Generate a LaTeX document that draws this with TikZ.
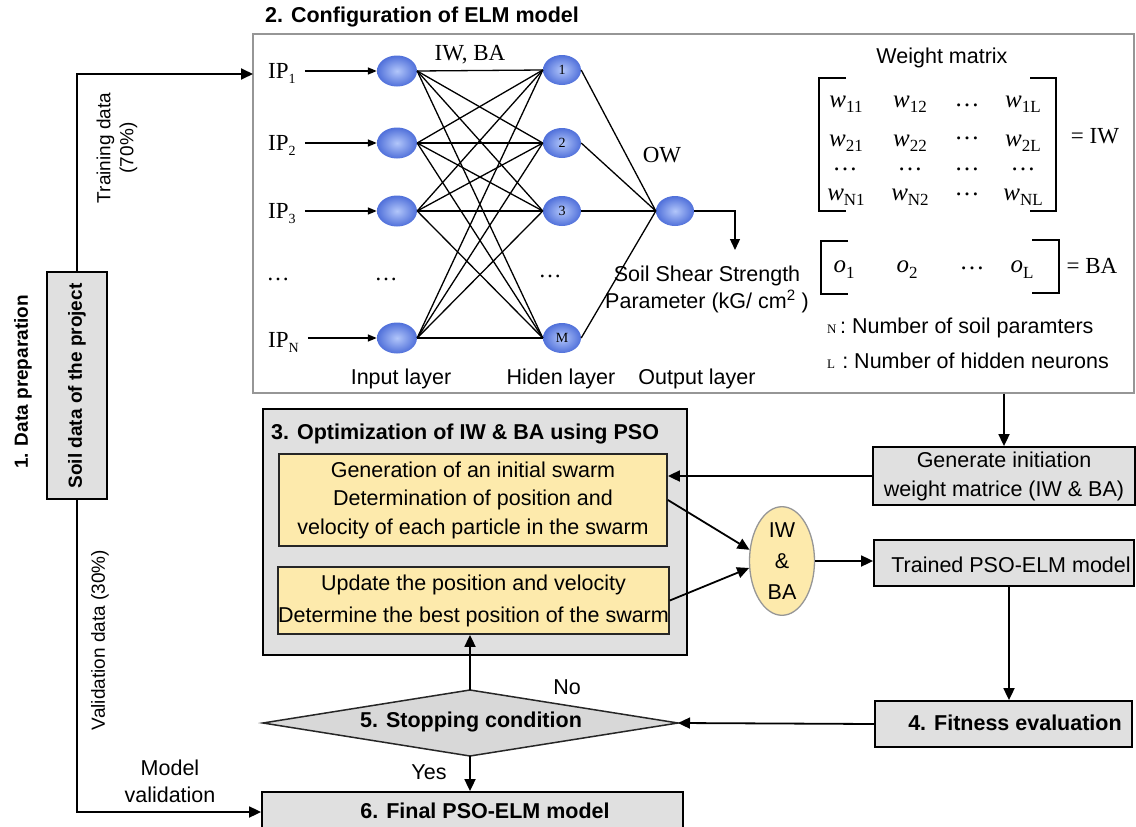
\documentclass[tikz,border=0pt]{standalone}
\usepackage{fontspec}
\setmainfont{Liberation Sans}
\newfontfamily\serif{Liberation Serif}
\usetikzlibrary{arrows.meta,shapes.geometric}
\definecolor{boxgray}{RGB}{224,224,224}
\definecolor{diagray}{RGB}{216,216,216}
\definecolor{ylw}{RGB}{253,234,172}
\definecolor{framegray}{RGB}{150,150,150}
\definecolor{nodein}{RGB}{178,198,250}
\definecolor{nodeout}{RGB}{80,112,218}
\newcommand{\fs}[1]{\fontsize{#1}{#1}\selectfont}
\newcommand{\lsub}[1]{\raisebox{-0.22em}{\fs{14}#1}}
\newcommand{\wsub}[1]{{\itshape w}\raisebox{-0.2em}{\fs{17}#1}}
\newcommand{\osub}[1]{{\itshape o}\raisebox{-0.25em}{\fs{17}#1}}
\begin{document}
\begin{tikzpicture}[x=1pt,y=-1pt,
  font=\fontsize{21.5}{27}\selectfont,
  >={Triangle[length=12pt,width=11pt]},
  conn/.style={line width=1.8pt,->},
  graybox/.style={draw=black,line width=1.8pt,fill=boxgray,inner sep=0pt},
  ylwbox/.style={draw=black!85,line width=1.8pt,fill=ylw,inner sep=0pt,align=center},
  neuron/.style={ellipse,shading=radial,inner color=nodein,outer color=nodeout,inner sep=0pt},
  nnline/.style={line width=1.3pt},
  txt/.style={inner sep=0pt},
  btxt/.style={inner sep=0pt,font=\fontsize{21.5}{27}\selectfont\bfseries},
  vtxt/.style={inner sep=0pt,rotate=90,font=\fontsize{19}{23}\selectfont,align=center},
  stxt/.style={inner sep=0pt,font=\serif\fontsize{23}{23}\selectfont},
  mtxt/.style={inner sep=0pt,font=\serif\fontsize{25}{25}\selectfont},
  brk/.style={line width=1.6pt},
]
\useasboundingbox (0,0) rectangle (1136,827);

% ---------- ELM configuration frame ----------
\node[draw=framegray,line width=1.2pt,minimum width=881pt,minimum height=359pt,inner sep=0pt] (elm) at (693.5,213.5) {};
\node[btxt,anchor=base west] (elmtitle) at (265,23) {2. Configuration of ELM model};

% input labels
\node[stxt,anchor=base west] (ip1) at (268,78) {IP\lsub{1}};
\node[stxt,anchor=base west] (ip2) at (268,150) {IP\lsub{2}};
\node[stxt,anchor=base west] (ip3) at (268,218) {IP\lsub{3}};
\node[stxt] (ipd) at (278,279) {…};
\node[stxt,anchor=base west] (ipn) at (268,347) {IP\lsub{N}};

% neurons
\foreach \i/\y in {1/71,2/143,3/211,4/338}
  \node[neuron,minimum width=40pt,minimum height=31pt] (in\i) at (397,\y) {};
\node[stxt] (ind) at (386,279) {…};
\foreach \i/\y/\l in {1/70/1,2/143/2,3/211/3,4/338/M}
  \node[neuron,minimum width=38pt,minimum height=30pt,font=\serif\fs{14}] (h\i) at (562,\y) {\l};
\node[stxt] (hd) at (550,276) {…};
\node[neuron,minimum width=38pt,minimum height=30pt] (out) at (675,211) {};

\foreach \i in {1,...,4}
  \foreach \j in {1,...,4}
    \draw[nnline] (in\i.east) -- (h\j.west);
\foreach \j in {1,...,4}
  \draw[nnline] (h\j.east) -- (out.west);

\foreach \a/\b in {ip1/in1,ip2/in2,ip3/in3,ipn/in4}
  \draw[line width=1.5pt,->,>={Triangle[length=9pt,width=7pt]},shorten <=9pt] (\a.east |- \b.west) -- (\b.west);

\coordinate (oarr) at (735,250);
\draw[nnline,->,>={Triangle[length=11pt,width=10pt]}] (out.east) -| (oarr);

\node[stxt,anchor=base] (iwba0) at (470,60) {IW, BA};
\node[stxt,anchor=base] (ow) at (662,162) {OW};
\node[txt,anchor=base,align=center] (sssp) at (707,308) {Soil Shear Strength\\Parameter (kG/ cm\textsuperscript{2} )};
\node[txt,anchor=base] (inl) at (401,384) {Input layer};
\node[txt,anchor=base] (hil) at (561,384) {Hiden layer};
\node[txt,anchor=base] (oul) at (697,384) {Output layer};

% weight matrix
\node[txt] (wmt) at (942,58) {Weight matrix};
\draw[brk] (846,78) -- (819,78) -- (819,211) -- (846,211);
\draw[brk] (1030,78) -- (1056,78) -- (1056,211) -- (1030,211);
\node[mtxt,anchor=base] (w11) at (846,107) {\wsub{11}};
\node[mtxt,anchor=base] (w12) at (910,107) {\wsub{12}};
\node[mtxt] (w13) at (967,105) {…};
\node[mtxt,anchor=base] (w1l) at (1023,107) {\wsub{1L}};
\node[mtxt,anchor=base] (w21) at (846,146) {\wsub{21}};
\node[mtxt,anchor=base] (w22) at (910,146) {\wsub{22}};
\node[mtxt] (w23) at (967,138) {…};
\node[mtxt,anchor=base] (w2l) at (1023,146) {\wsub{2L}};
\foreach \x in {845,910,967,1023}
  \node[mtxt] at (\x,169) {…};
\node[mtxt,anchor=base] (wn1) at (846,200) {\wsub{N1}};
\node[mtxt,anchor=base] (wn2) at (910,200) {\wsub{N2}};
\node[mtxt] (wn3) at (967,194) {…};
\node[mtxt,anchor=base] (wnl) at (1023,200) {\wsub{NL}};
\node[stxt,anchor=base] (eqiw) at (1095,143) {= IW};

\draw[brk] (848,241) -- (821,241) -- (821,294) -- (848,294);
\draw[brk] (1032,240) -- (1059,240) -- (1059,293) -- (1032,293);
\node[mtxt,anchor=base] (o1) at (844,272) {\osub{1}};
\node[mtxt,anchor=base] (o2) at (907,272) {\osub{2}};
\node[mtxt] (o3) at (972,268) {…};
\node[mtxt,anchor=base] (ol) at (1022,272) {\osub{L}};
\node[stxt,anchor=base] (eqba) at (1092,273) {= BA};

\node[txt,anchor=base west] (legn) at (827,333) {{\serif\fs{13}N}\,: Number of soil paramters};
\node[txt,anchor=base west] (legl) at (827,368) {{\serif\fs{13}L}\,\,: Number of hidden neurons};

% ---------- data preparation ----------
\node[vtxt,font=\fontsize{19}{23}\selectfont\bfseries] (dp) at (23,382) {1. Data preparation};
\node[graybox,minimum width=60pt,minimum height=227pt] (soil) at (77,385.5) {};
\node[vtxt,font=\fontsize{19}{23}\selectfont\bfseries] (soiltxt) at (77,386) {Soil data of the project};
\coordinate (trainin) at (253,74);
\draw[conn] (soil.north) |- (trainin);
\node[vtxt] (trtxt) at (117,148) {Training data\\(70\%)};
\node[vtxt] (vatxt) at (100,640) {Validation data (30\%)};

% ---------- final ----------
\node[graybox,minimum width=421pt,minimum height=40pt] (final) at (472.5,812) {};
\node[btxt,anchor=base] (finaltxt) at (485,818) {6. Final PSO-ELM model};
\draw[conn] (soil.south) |- (final.west);
\node[txt,align=center] (mv) at (170,781) {Model\\validation};

% ---------- optimization ----------
\node[graybox,minimum width=424pt,minimum height=246pt] (opt) at (475,532) {};
\node[btxt,anchor=base west] (opttxt) at (271,439) {3. Optimization of IW \& BA using PSO};
\node[ylwbox,minimum width=388pt,minimum height=92pt,font=\fontsize{21.5}{28.5}\selectfont] (y1) at (473,500)
  {Generation of an initial swarm\\Determination of position and\\velocity of each particle in the swarm};
\node[ylwbox,minimum width=387pt,minimum height=67pt,font=\fontsize{21.5}{32}\selectfont] (y2) at (473.5,600.5)
  {Update the position and velocity\\Determine the best position of the swarm};

\node[ellipse,draw=framegray,line width=1.3pt,fill=ylw,minimum width=65pt,minimum height=103pt,inner sep=0pt,align=center,font=\fontsize{21.5}{31}\selectfont] (iwba) at (782,561) {IW\\\&\\BA};

% ---------- right column ----------
\node[graybox,minimum width=262pt,minimum height=58pt,align=center,font=\fontsize{21.5}{29}\selectfont] (gen) at (1004,476) {Generate initiation\\weight matrice (IW \& BA)};
\node[graybox,minimum width=260pt,minimum height=46pt] (trained) at (1004,563) {};
\node[txt,anchor=base] (trainedtxt) at (1011,572) {Trained PSO-ELM model};
\node[graybox,minimum width=257pt,minimum height=46pt] (fit) at (1003.5,724) {};
\node[btxt,anchor=base] (fittxt) at (1015,730) {4. Fitness evaluation};

% ---------- stopping condition ----------
\coordinate (stopL) at (263,723);
\coordinate (stopT) at (470,690);
\coordinate (stopR) at (678,723);
\coordinate (stopB) at (470,756);
\draw[line width=1.5pt,draw=black!85,fill=diagray] (stopL) -- (stopT) -- (stopR) -- (stopB) -- cycle;
\node[btxt] (stop) at (471,722) {5. Stopping condition};

% ---------- connectors ----------
\draw[conn] (elm.south -| gen.north) -- (gen.north);
\draw[conn] (gen.west) -- (gen.west -| y1.east);
\draw[conn] (y1.east) -- (iwba.161);
\draw[conn] (y2.east) -- (iwba.192);
\draw[conn] (iwba.east) -- (iwba.east -| trained.west);
\draw[conn] (trained.south -| 1009,0) -- (fit.north -| 1009,0);
\draw[conn] (fit.west) -- (stopR);
\draw[conn] (stopT) -- (stopT |- y2.south);
\draw[conn] (stopB) -- (stopB |- final.north);
\node[txt] (no) at (567,687) {No};
\node[txt] (yes) at (429,772) {Yes};
\end{tikzpicture}
\end{document}
